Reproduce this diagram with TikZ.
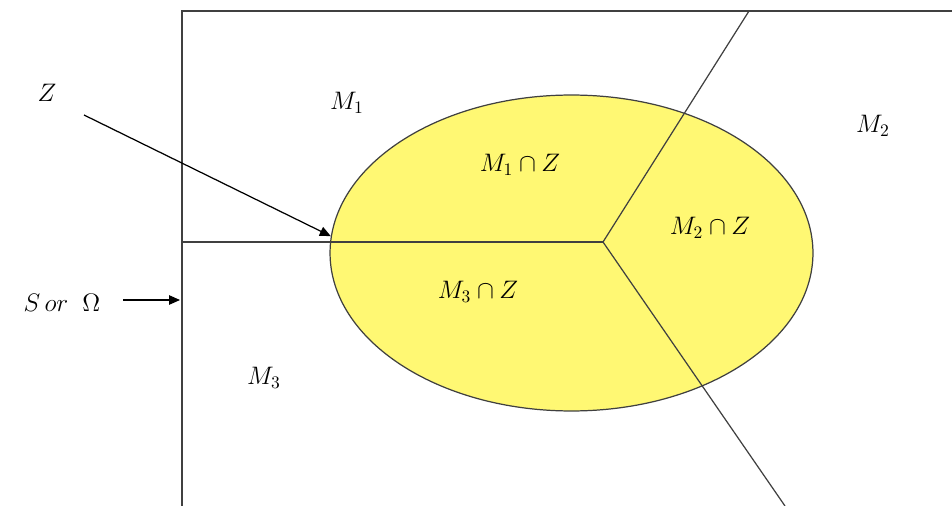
\documentclass[tikz,border=0pt]{standalone}
\usepackage{tikz}
\usetikzlibrary{arrows.meta, positioning, shapes.geometric}

\begin{document}
\begin{tikzpicture}[
  x=0.02cm, y=-0.02cm,
  >={Triangle[length=2.2mm, width=1.9mm]},
  line/.style={draw=black!75, line width=0.7pt},
  lab/.style={font=\Large, inner sep=1pt}
]
\useasboundingbox (0,0) rectangle (952,506);
% the set S and its three parts
\coordinate (topleft) at (182,11);
\coordinate (topright) at (952,11);
\coordinate (botleft) at (182,506);
\coordinate (mid) at (182,242);
\coordinate (core) at (603,242);
\coordinate (up) at (749,11);
\coordinate (down) at (785,506);

\node (zset) [ellipse, draw=black!75, fill=yellow!55, line width=0.7pt,
  minimum width=9.66cm, minimum height=6.32cm, inner sep=0pt] at (571.5,253) {};

\draw[line] (botleft) -- (topleft) -- (topright);
\draw[line] (mid) -- (core);
\draw[line] (core) -- (up);
\draw[line] (core) -- (down);

% labels
\node (m1) [lab] at (347,103) {$M_1$};
\node (m2) [lab] at (873,126) {$M_2$};
\node (m3) [lab] at (264,378) {$M_3$};
\node (m1z) [lab] at (520,165) {$M_1\cap Z$};
\node (m2z) [lab] at (710,228) {$M_2\cap Z$};
\node (m3z) [lab] at (478,292) {$M_3\cap Z$};
\node (zlab) [lab] at (47,93) {$Z$};
\node (slab) [lab] at (62,303) {$S\,or\;\;\Omega$};

% pointers
\coordinate (ztail) at (84,115);
\coordinate (stail) at (123,300);
\coordinate (shead) at (180,300);
\draw[->, line width=0.7pt] (ztail) -- (zset.176);
\draw[->, line width=0.7pt] (stail) -- (shead);
\end{tikzpicture}
\end{document}
